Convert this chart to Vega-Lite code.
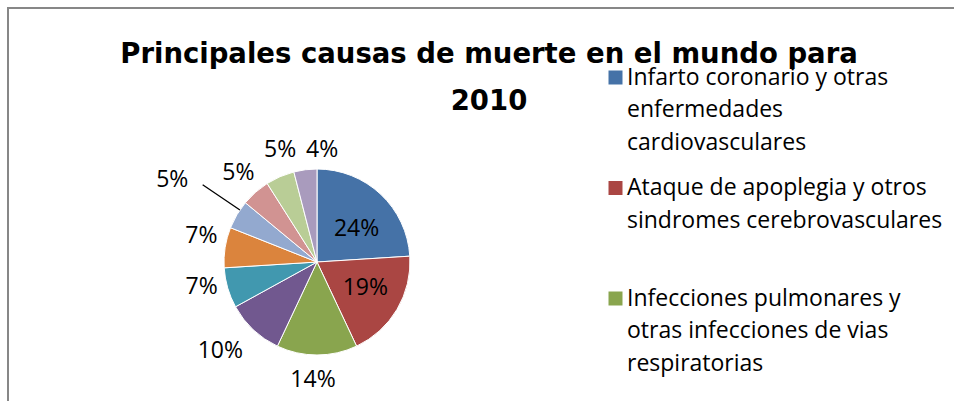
{
  "$schema": "https://vega.github.io/schema/vega-lite/v6.json",
  "autosize": "none",
  "width": 186,
  "height": 186,
  "padding": {"left": 224, "top": 169, "right": 544, "bottom": 46},
  "background": "white",
  "config": {"view": {"stroke": null}, "style": {"guide-label": {"lineHeight": 32.5}}, "legend": {"strokeWidth": 2}},
  "title": {
    "text": ["Principales causas de muerte en el mundo para", "2010"],
    "font": "DejaVu Sans",
    "fontSize": 27.5,
    "fontWeight": "bold",
    "color": "#000000",
    "lineHeight": 47,
    "anchor": "middle",
    "frame": "group",
    "dx": 172,
    "offset": -108
  },
  "data": {
    "values": [
      {"idx": 0, "causa": "Infarto coronario y otras enfermedades cardiovasculares", "valor": 0.24},
      {"idx": 1, "causa": "Ataque de apoplegia y otros sindromes cerebrovasculares", "valor": 0.19},
      {"idx": 2, "causa": "Infecciones pulmonares y otras infecciones de vias respiratorias", "valor": 0.14},
      {"idx": 3, "causa": "Enfermedad pulmonar obstructiva crónica", "valor": 0.10},
      {"idx": 4, "causa": "Enfermedades diarreicas", "valor": 0.07},
      {"idx": 5, "causa": "VIH/SIDA", "valor": 0.07},
      {"idx": 6, "causa": "Cáncer de tráquea, bronquios y pulmón", "valor": 0.05},
      {"idx": 7, "causa": "Tuberculosis", "valor": 0.05},
      {"idx": 8, "causa": "Diabetes mellitus", "valor": 0.05},
      {"idx": 9, "causa": "Accidentes de tránsito", "valor": 0.04}
    ]
  },
  "encoding": {
    "theta": {"field": "valor", "type": "quantitative", "stack": true},
    "order": {"field": "idx", "type": "quantitative", "sort": "ascending"}
  },
  "layer": [
    {
      "mark": {"type": "arc", "outerRadius": 93, "stroke": "white", "strokeWidth": 1},
      "encoding": {
        "opacity": {
          "field": "valor",
          "type": "quantitative",
          "scale": {"range": [1, 1]},
          "legend": {
            "orient": "none",
            "legendX": -216,
            "legendY": -161,
            "title": null,
            "padding": 2000,
            "strokeColor": "#878787",
            "symbolSize": 4,
            "symbolType": "square",
            "symbolFillColor": "#ffffff",
            "symbolStrokeWidth": 0,
            "labelExpr": "''"
          }
        },
        "color": {
          "field": "causa",
          "type": "nominal",
          "scale": {
            "domain": [
              "Infarto coronario y otras enfermedades cardiovasculares",
              "Ataque de apoplegia y otros sindromes cerebrovasculares",
              "Infecciones pulmonares y otras infecciones de vias respiratorias",
              "Enfermedad pulmonar obstructiva crónica",
              "Enfermedades diarreicas",
              "VIH/SIDA",
              "Cáncer de tráquea, bronquios y pulmón",
              "Tuberculosis",
              "Diabetes mellitus",
              "Accidentes de tránsito"
            ],
            "range": ["#4572A7", "#AA4643", "#89A54E", "#71588F", "#4198AF", "#DB843D", "#93A9CF", "#D19392", "#B9CD96", "#A99BBD"]
          },
          "legend": {
            "orient": "none",
            "legendX": 380,
            "legendY": -103,
            "title": null,
            "padding": 0,
            "values": [
              "Infarto coronario y otras enfermedades cardiovasculares",
              "Ataque de apoplegia y otros sindromes cerebrovasculares",
              "Infecciones pulmonares y otras infecciones de vias respiratorias"
            ],
            "symbolType": "square",
            "symbolSize": 196,
            "symbolStrokeWidth": 0,
            "labelFont": "Open Sans",
            "labelFontSize": 23,
            "labelColor": "#000000",
            "labelLimit": 1000,
            "labelOffset": 0,
            "labelBaseline": "middle",
            "gridAlign": "all",
            "rowPadding": 21.5,
            "labelExpr": "datum.label == 'Infarto coronario y otras enfermedades cardiovasculares' ? ['Infarto coronario y otras', 'enfermedades', 'cardiovasculares'] : datum.label == 'Ataque de apoplegia y otros sindromes cerebrovasculares' ? ['Ataque de apoplegia y otros', 'sindromes cerebrovasculares'] : ['Infecciones pulmonares y', 'otras infecciones de vias', 'respiratorias']"
          }
        }
      }
    },
    {
      "mark": {"type": "arc", "innerRadius": 93, "outerRadius": 138, "padAngle": 0.6, "thetaOffset": 0.06, "theta2Offset": 0.06, "fill": null, "stroke": "#000000", "strokeWidth": 1.3},
      "encoding": {
        "strokeOpacity": {"condition": {"test": "datum.idx == 6", "value": 1}, "value": 0}
      }
    },
    {
      "mark": {"type": "text", "radius": 52, "dx": 4, "dy": 5, "font": "Open Sans", "fontSize": 23, "color": "#000000"},
      "encoding": {"text": {"condition": {"test": "datum.idx == 0", "field": "valor", "type": "quantitative", "format": ".0%"}, "value": ""}}
    },
    {
      "mark": {"type": "text", "radius": 55, "dx": 1, "dy": -2, "font": "Open Sans", "fontSize": 23, "color": "#000000"},
      "encoding": {"text": {"condition": {"test": "datum.idx == 1", "field": "valor", "type": "quantitative", "format": ".0%"}, "value": ""}}
    },
    {
      "mark": {"type": "text", "radius": 118, "dx": -4, "font": "Open Sans", "fontSize": 23, "color": "#000000"},
      "encoding": {"text": {"condition": {"test": "datum.idx == 2", "field": "valor", "type": "quantitative", "format": ".0%"}, "value": ""}}
    },
    {
      "mark": {"type": "text", "radius": 131, "dx": -7, "dy": -6, "font": "Open Sans", "fontSize": 23, "color": "#000000"},
      "encoding": {"text": {"condition": {"test": "datum.idx == 3", "field": "valor", "type": "quantitative", "format": ".0%"}, "value": ""}}
    },
    {
      "mark": {"type": "text", "radius": 118, "dx": -2, "dy": -8, "font": "Open Sans", "fontSize": 23, "color": "#000000"},
      "encoding": {"text": {"condition": {"test": "datum.idx == 4", "field": "valor", "type": "quantitative", "format": ".0%"}, "value": ""}}
    },
    {
      "mark": {"type": "text", "radius": 118, "dx": 1, "dy": -8, "font": "Open Sans", "fontSize": 23, "color": "#000000"},
      "encoding": {"text": {"condition": {"test": "datum.idx == 5", "field": "valor", "type": "quantitative", "format": ".0%"}, "value": ""}}
    },
    {
      "mark": {"type": "text", "radius": 167, "dx": -1, "dy": 3, "font": "Open Sans", "fontSize": 23, "color": "#000000"},
      "encoding": {"text": {"condition": {"test": "datum.idx == 6", "field": "valor", "type": "quantitative", "format": ".0%"}, "value": ""}}
    },
    {
      "mark": {"type": "text", "radius": 119, "font": "Open Sans", "fontSize": 23, "color": "#000000"},
      "encoding": {"text": {"condition": {"test": "datum.idx == 7", "field": "valor", "type": "quantitative", "format": ".0%"}, "value": ""}}
    },
    {
      "mark": {"type": "text", "radius": 118, "dx": 10, "dy": -4, "font": "Open Sans", "fontSize": 23, "color": "#000000"},
      "encoding": {"text": {"condition": {"test": "datum.idx == 8", "field": "valor", "type": "quantitative", "format": ".0%"}, "value": ""}}
    },
    {
      "mark": {"type": "text", "radius": 111, "dx": 19, "dy": -2, "font": "Open Sans", "fontSize": 23, "color": "#000000"},
      "encoding": {"text": {"condition": {"test": "datum.idx == 9", "field": "valor", "type": "quantitative", "format": ".0%"}, "value": ""}}
    }
  ]
}
